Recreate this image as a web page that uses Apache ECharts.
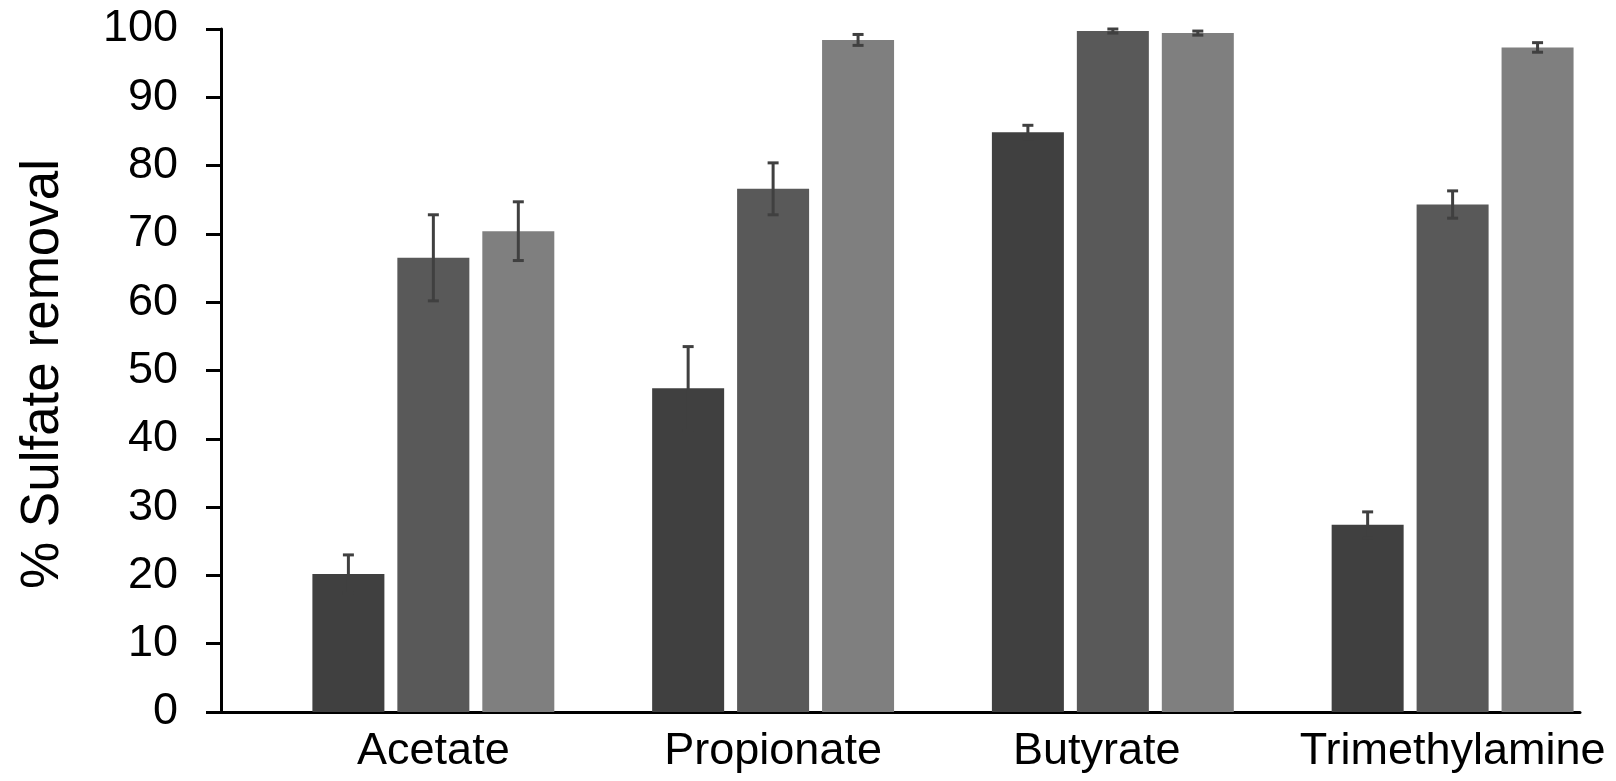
<!DOCTYPE html>
<html>
<head>
<meta charset="utf-8">
<script src="https://cdn.jsdelivr.net/npm/echarts@6/dist/echarts.min.js"></script>
<style>
html,body{margin:0;padding:0;background:#fff;}
#chart{width:1616px;height:781px;}
</style>
</head>
<body>
<div id="chart"></div>
<script>
// ---- data ----
const categories = ['Acetate', 'Propionate', 'Butyrate', 'Trimethylamine'];
const seriesEmpty = [null, null, null, null];          // empty first slot in each group
const series1 = [20.2, 47.4, 84.9, 27.4];
const series1Err = [2.8, 6.1, 1.0, 1.9];
const series2 = [66.5, 76.6, 99.7, 74.3];
const series2Err = [6.3, 3.8, 0.3, 2.0];
const series3 = [70.4, 98.4, 99.4, 97.3];
const series3Err = [4.3, 0.8, 0.3, 0.7];
const yMin = 0, yMax = 100, yStep = 10;
const yTitle = '% Sulfate removal';

// ---- styling ----
const FONT = '"Liberation Sans", Arial, sans-serif';
const BAR_W = 72;
const BAR_GAP = 0.18;
const PITCH = BAR_W * (1 + BAR_GAP);
const COLORS = ['#ffffff', '#404040', '#595959', '#7f7f7f'];
const ERR_COLOR = '#404040';

function errSeries(values, errs, slot) {
  return {
    type: 'custom',
    z: 10,
    silent: true,
    data: values.map((v, i) => [i, v, errs[i]]),
    encode: { x: 0, y: 1 },
    renderItem: function (params, api) {
      const i = api.value(0), v = api.value(1), e = api.value(2);
      const top = api.coord([i, v + e]);
      const bot = api.coord([i, v - e]);
      const x = top[0] + (slot - 1.5) * PITCH;
      const half = 5.5;
      const st = { stroke: ERR_COLOR, lineWidth: 3 };
      return {
        type: 'group',
        children: [
          { type: 'line', shape: { x1: x, y1: top[1], x2: x, y2: bot[1] }, style: st },
          { type: 'line', shape: { x1: x - half, y1: top[1], x2: x + half, y2: top[1] }, style: st },
          { type: 'line', shape: { x1: x - half, y1: bot[1], x2: x + half, y2: bot[1] }, style: st }
        ]
      };
    }
  };
}

function barSeries(name, data, color) {
  return {
    name: name,
    type: 'bar',
    data: data,
    barWidth: BAR_W,
    barGap: (BAR_GAP * 100) + '%',
    itemStyle: { color: color },
    silent: true
  };
}

const chart = echarts.init(document.getElementById('chart'), null, { renderer: 'canvas' });
chart.setOption({
  animation: false,
  backgroundColor: '#ffffff',
  grid: { left: 221, right: 36, top: 29, bottom: 69, containLabel: false },
  xAxis: {
    type: 'category',
    data: categories,
    axisLine: { show: true, lineStyle: { color: '#000', width: 3 } },
    axisTick: { show: false },
    axisLabel: {
      color: '#000',
      fontSize: 45,
      fontFamily: FONT,
      margin: 17,
      padding: [0, 0, 0, PITCH],
      interval: 0,
      formatter: function (v) { return v === 'Butyrate' ? '{s|' + v + '}' : v; },
      rich: { s: { color: '#000', fontSize: 45, fontFamily: FONT, padding: [0, 32, 0, 0] } }
    },
    splitLine: { show: false }
  },
  yAxis: {
    type: 'value',
    min: yMin,
    max: yMax,
    interval: yStep,
    name: yTitle,
    nameLocation: 'middle',
    nameGap: 151,
    nameRotate: 90,
    nameTextStyle: { color: '#000', fontSize: 53, fontFamily: FONT, padding: [0, 7, 0, 0] },
    axisLine: { show: true, lineStyle: { color: '#000', width: 3 } },
    axisTick: { show: true, length: 15, inside: false, lineStyle: { color: '#000', width: 3 } },
    axisLabel: { color: '#000', fontSize: 45, fontFamily: FONT, margin: 43 },
    splitLine: { show: false }
  },
  series: [
    barSeries('', seriesEmpty, COLORS[0]),
    barSeries('Series 1', series1, COLORS[1]),
    barSeries('Series 2', series2, COLORS[2]),
    barSeries('Series 3', series3, COLORS[3]),
    errSeries(series1, series1Err, 1),
    errSeries(series2, series2Err, 2),
    errSeries(series3, series3Err, 3)
  ]
});
</script>
</body>
</html>
